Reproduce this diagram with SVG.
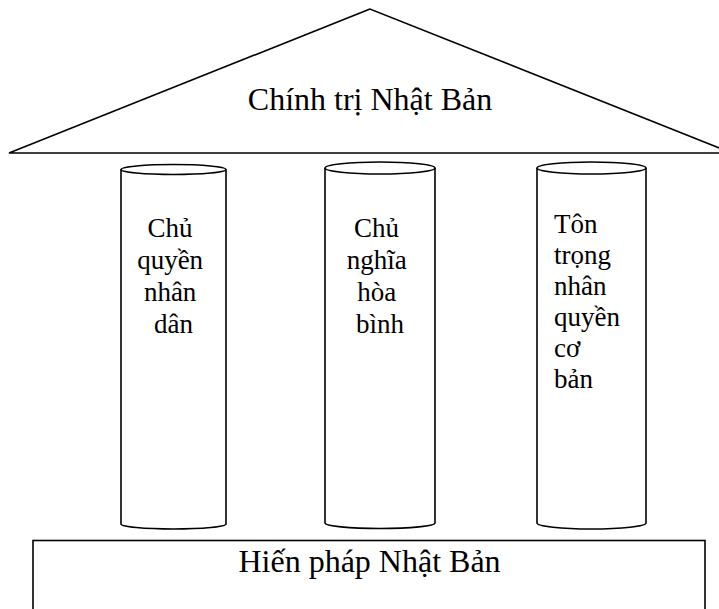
<svg xmlns="http://www.w3.org/2000/svg" width="719" height="609" viewBox="0 0 719 609">
  <style>
    .shape { fill: #ffffff; stroke: #000000; stroke-width: 1.6; }
    text { font-family: 'Liberation Serif', 'Times New Roman', serif; fill: #000000; }
    .title { font-size: 32px; text-anchor: middle; }
    .label { font-size: 27px; }
    .mid { text-anchor: middle; }
  </style>
  <rect x="0" y="0" width="719" height="609" fill="#ffffff"/>

  <!-- Roof: politics -->
  <g id="roof">
    <polygon class="shape" points="370,9 9,153 732,153"/>
    <text class="title" x="370" y="110">Chính trị Nhật Bản</text>
  </g>

  <!-- Pillar 1 -->
  <g id="pillar-1">
    <path class="shape" d="M121,169.5 L121,524 A52.5,5 0 0 0 226,524 L226,169.5"/>
    <ellipse class="shape" cx="173.5" cy="169.5" rx="52.5" ry="5"/>
    <text class="label mid" x="173.5">
      <tspan x="173.5" y="237">Chủ</tspan>
      <tspan x="173.5" y="269">quyền</tspan>
      <tspan x="173.5" y="301">nhân</tspan>
      <tspan x="173.5" y="333">dân</tspan>
    </text>
  </g>

  <!-- Pillar 2 -->
  <g id="pillar-2">
    <path class="shape" d="M325,168 L325,523 A55,5.5 0 0 0 435,523 L435,168"/>
    <ellipse class="shape" cx="380" cy="168" rx="55" ry="6"/>
    <text class="label mid" x="380">
      <tspan x="380" y="237">Chủ</tspan>
      <tspan x="380" y="269">nghĩa</tspan>
      <tspan x="380" y="301">hòa</tspan>
      <tspan x="380" y="333">bình</tspan>
    </text>
  </g>

  <!-- Pillar 3 -->
  <g id="pillar-3">
    <path class="shape" d="M537,168 L537,523 A54.5,6 0 0 0 646,523 L646,168"/>
    <ellipse class="shape" cx="591.5" cy="168" rx="54.5" ry="6"/>
    <text class="label" x="554">
      <tspan x="554" y="233">Tôn</tspan>
      <tspan x="554" y="264">trọng</tspan>
      <tspan x="554" y="295">nhân</tspan>
      <tspan x="554" y="326">quyền</tspan>
      <tspan x="554" y="357">cơ</tspan>
      <tspan x="554" y="388">bản</tspan>
    </text>
  </g>

  <!-- Foundation: constitution -->
  <g id="foundation">
    <rect class="shape" x="33" y="540.5" width="672" height="80"/>
    <text class="title" x="369.5" y="572">Hiến pháp Nhật Bản</text>
  </g>

  <g id="connectors"/>
</svg>
